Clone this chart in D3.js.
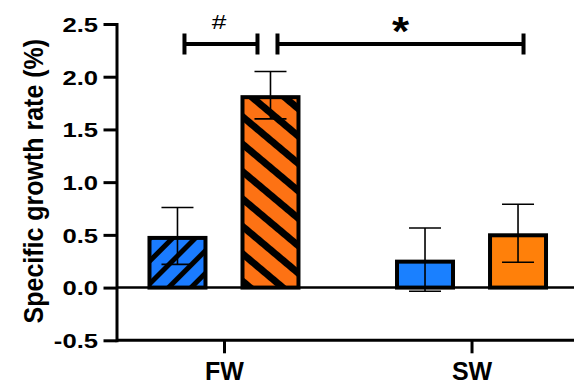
<!DOCTYPE html>
<html>
<head>
<meta charset="utf-8">
<script src="https://cdn.jsdelivr.net/npm/d3@7"></script>
<style>
  html, body { margin: 0; padding: 0; background: #fff; }
  svg { display: block; font-family: "Liberation Sans", Arial, sans-serif; }
</style>
</head>
<body>
<div id="chart"></div>
<script>
// groups on the x axis and the two series in each group
const groups = ["FW", "SW"];
const seriesNames = ["A", "B"];
// mean and SD, one value per group
const meanA = [0.49, 0.265];
const sdA = [0.27, 0.30];
const meanB = [1.825, 0.515];
const sdB = [0.225, 0.275];
const yTicks = [-0.5, 0, 0.5, 1.0, 1.5, 2.0, 2.5];
const hatchedGroups = ["FW"];
// significance brackets
const brackets = [
    { from: ["FW", "A"], to: ["FW", "B"], label: "#" },
    { from: ["FW", "B"], to: ["SW", "B"], label: "*" }
];
const bracketLevel = 2.31;

const width = 574;
const height = 382;
const margin = { top: 24, right: 0, bottom: 42, left: 116.5 };
const tickStretch = 1.25;

const rows = groups.flatMap((g, i) => [
    { group: g, series: "A", mean: meanA[i], sd: sdA[i] },
    { group: g, series: "B", mean: meanB[i], sd: sdB[i] }
]);

const y = d3.scaleLinear()
    .domain([-0.5, 2.5])
    .range([height - margin.bottom + 0.3, margin.top]);

const x = d3.scalePoint()
    .domain(groups)
    .range([121.5, width])
    .padding(0.414);

const sub = d3.scaleBand()
    .domain(seriesNames)
    .range([-76.5, 76.5])
    .paddingInner(0.355);

const cx = (g, s) => x(g) + sub(s) + sub.bandwidth() / 2;

const colors = { A: "#1a80ff", B: "#ff800a" };
const hatchColors = { A: "#1a7bff", B: "#fd7214" };

const svg = d3.select("#chart").append("svg")
    .attr("width", width)
    .attr("height", height)
    .attr("viewBox", `0 0 ${width} ${height}`);

// hatch patterns for the FW bars
const defs = svg.append("defs");
const hatch = { A: { size: 16, stripe: 5, angle: 45 }, B: { size: 21, stripe: 7, angle: -50 } };
seriesNames.forEach(s => {
    const p = defs.append("pattern")
        .attr("id", "hatch" + s)
        .attr("patternUnits", "userSpaceOnUse")
        .attr("width", hatch[s].size)
        .attr("height", hatch[s].size)
        .attr("patternTransform", `rotate(${hatch[s].angle})`);
    p.append("rect")
        .attr("width", hatch[s].size)
        .attr("height", hatch[s].size)
        .attr("fill", hatchColors[s]);
    p.append("rect")
        .attr("width", hatch[s].stripe)
        .attr("height", hatch[s].size)
        .attr("fill", "#000");
});

// bars
const bw = 4;
svg.append("g")
    .selectAll("rect")
    .data(rows)
    .join("rect")
    .attr("x", d => x(d.group) + sub(d.series) + bw / 2)
    .attr("width", sub.bandwidth() - bw)
    .attr("y", d => y(d.mean) + bw / 2)
    .attr("height", d => y(0) - y(d.mean) - bw / 2)
    .attr("fill", d => hatchedGroups.includes(d.group) ? `url(#hatch${d.series})` : colors[d.series])
    .attr("stroke", "#000")
    .attr("stroke-width", bw);

// zero line
svg.append("line")
    .attr("x1", margin.left)
    .attr("x2", width)
    .attr("y1", y(0))
    .attr("y2", y(0))
    .attr("stroke", "#000")
    .attr("stroke-width", 2.5);

// error bars
const capW = 32;
const eb = svg.append("g").attr("stroke", "#000").attr("stroke-width", 1.6);
rows.forEach(d => {
    const c = cx(d.group, d.series);
    eb.append("line").attr("x1", c).attr("x2", c)
        .attr("y1", y(d.mean + d.sd)).attr("y2", y(d.mean - d.sd));
    [d.mean + d.sd, d.mean - d.sd].forEach(v => {
        eb.append("line").attr("x1", c - capW / 2).attr("x2", c + capW / 2)
            .attr("y1", y(v)).attr("y2", y(v));
    });
});

// y axis
const yAxis = svg.append("g")
    .attr("transform", `translate(${margin.left},0)`)
    .call(d3.axisLeft(y).tickValues(yTicks).tickFormat(d => d.toFixed(1)).tickSize(13).tickSizeOuter(0));
yAxis.selectAll("path, line").attr("stroke", "#000").attr("stroke-width", 3);
yAxis.select(".domain").attr("stroke-linecap", "square");
yAxis.selectAll("text")
    .attr("x", 0)
    .attr("dy", "0.36em")
    .attr("transform", `translate(-18.5,0) scale(${tickStretch},1)`)
    .attr("fill", "#000")
    .style("font-size", "20.5px")
    .style("font-weight", "bold")
    .style("font-family", "'Liberation Sans', Arial, sans-serif");

// x axis
const xAxis = svg.append("g")
    .attr("transform", `translate(0,${y(-0.5)})`)
    .call(d3.axisBottom(x).tickSize(13).tickSizeOuter(0));
xAxis.select(".domain").attr("d", `M${margin.left},0H${width}`);
xAxis.selectAll("path, line").attr("stroke", "#000").attr("stroke-width", 3);
xAxis.selectAll("text")
    .attr("y", 40)
    .attr("dy", null)
    .attr("fill", "#000")
    .style("font-size", "25px")
    .style("font-weight", "bold")
    .style("font-family", "'Liberation Sans', Arial, sans-serif");

// y axis title
svg.append("text")
    .attr("transform", `translate(42.5,${(y(-0.5) + y(2.5)) / 2 - 1}) scale(1.08,1) rotate(-90)`)
    .attr("text-anchor", "middle")
    .style("font-size", "25px")
    .style("font-weight", "bold")
    .text("Specific growth rate (%)");

// significance brackets
const by = y(bracketLevel);
const starts = brackets.map(b => b.from.join("|"));
const bg = svg.append("g");
brackets.forEach(b => {
    const x1 = cx(b.from[0], b.from[1]) + 7;
    const x2 = cx(b.to[0], b.to[1]) + (starts.includes(b.to.join("|")) ? -13 : 5.5);
    bg.append("path")
        .attr("d", `M${x1},${by - 10.5}V${by + 10.5}M${x1},${by}H${x2}M${x2},${by - 10.5}V${by + 10.5}`)
        .attr("fill", "none")
        .attr("stroke", "#000")
        .attr("stroke-width", 4);
    const t = bg.append("text")
        .attr("text-anchor", "middle")
        .text(b.label);
    if (b.label === "*") {
        t.attr("transform", `translate(${(x1 + x2) / 2},${by + 1}) scale(1.1,1)`)
            .style("font-size", "40px").style("font-weight", "bold");
    } else {
        t.attr("transform", `translate(${(x1 + x2) / 2 - 2},${by - 15.5}) scale(1.25,1)`)
            .style("font-size", "21px");
    }
});
</script>
</body>
</html>
